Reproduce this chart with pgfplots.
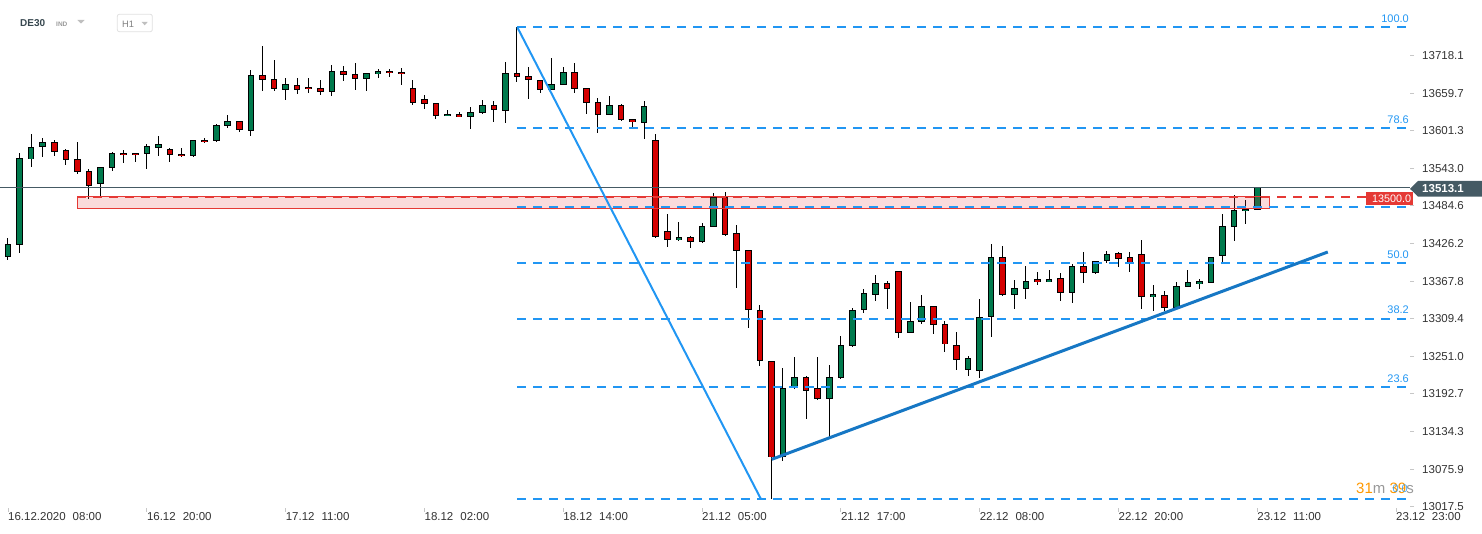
\documentclass[border=0pt]{standalone}
\usepackage{pgfplots}
\usepackage{pgfplotstable}
\pgfplotsset{compat=1.18}
\usepackage{fontspec}
\setmainfont{Liberation Sans}
\definecolor{cgreen}{HTML}{007A4D}
\definecolor{cred}{HTML}{D50000}
\definecolor{fibblue}{HTML}{2196F3}
\definecolor{trendblue}{HTML}{1677C4}
\definecolor{zonered}{HTML}{E53935}
\definecolor{slate}{HTML}{455A64}
\definecolor{lbl}{HTML}{333333}
\definecolor{hdr}{HTML}{37474F}
\definecolor{cdorange}{HTML}{FF9800}

% i = candle index (H1), o h l c
\pgfplotstableread{
i o h l c
0 13404.8 13434.3 13400.6 13425.0
1 13423.4 13566.2 13411.9 13558.5
2 13556.9 13596.2 13545.4 13575.6
3 13575.6 13589.5 13561.0 13583.3
8 13518.1 13544.5 13499.9 13544.5
9 13543.0 13567.8 13539.2 13566.2
12 13564.7 13580.2 13542.3 13577.1
13 13574.0 13593.1 13562.5 13580.2
16 13561.6 13586.4 13560.0 13586.4
18 13584.9 13611.3 13583.8 13609.7
19 13608.2 13625.2 13605.1 13615.9
21 13600.4 13695.1 13593.6 13687.4
24 13664.1 13682.7 13649.5 13673.4
28 13661.0 13703.3 13655.7 13693.6
31 13681.1 13690.5 13663.4 13690.5
32 13688.9 13696.7 13682.7 13693.6
38 13623.7 13633.0 13623.7 13626.8
40 13622.1 13637.7 13603.5 13629.9
41 13628.4 13648.5 13626.8 13640.8
43 13631.5 13707.5 13612.8 13690.5
47 13664.1 13713.8 13664.1 13673.4
48 13671.8 13699.8 13671.8 13692.0
52 13625.2 13654.8 13625.2 13640.8
55 13612.8 13647.0 13588.0 13639.2
58 13431.2 13459.1 13429.6 13435.8
60 13428.1 13457.6 13426.5 13452.9
61 13451.3 13504.1 13451.3 13497.9
67 13094.2 13232.4 13088.0 13201.4
68 13201.4 13249.5 13199.8 13218.4
71 13184.3 13237.1 13126.2 13218.4
72 13216.9 13282.1 13215.3 13268.1
73 13266.6 13325.6 13265.0 13322.5
74 13322.5 13355.1 13317.8 13348.9
75 13345.8 13376.8 13336.4 13364.4
78 13286.8 13334.9 13286.8 13305.4
79 13303.8 13345.8 13300.7 13328.7
83 13229.3 13251.0 13220.0 13247.9
84 13227.8 13339.6 13216.9 13311.6
85 13311.6 13425.0 13280.5 13404.8
87 13345.8 13369.1 13324.0 13356.6
88 13355.1 13390.8 13339.6 13367.5
90 13365.9 13384.6 13365.9 13370.6
92 13348.9 13393.9 13333.3 13390.8
94 13379.9 13398.6 13378.4 13398.6
95 13398.6 13414.1 13395.4 13409.4
99 13342.7 13361.3 13320.9 13347.3
101 13325.6 13365.9 13324.0 13359.7
102 13358.2 13384.6 13358.2 13365.9
103 13362.8 13370.6 13355.1 13367.5
104 13364.4 13404.8 13364.4 13404.8
105 13406.3 13471.5 13393.9 13452.9
106 13451.3 13501.0 13429.6 13477.7
107 13476.2 13493.3 13456.0 13479.3
108 13477.7 13513.1 13477.7 13513.1
}\greencandles

\pgfplotstableread{
i o h l c
4 13583.3 13586.9 13562.5 13568.7
5 13570.9 13572.5 13548.5 13555.4
6 13556.9 13583.8 13533.6 13536.7
7 13538.3 13541.4 13495.8 13515.0
10 13566.2 13571.4 13551.7 13563.1
11 13566.2 13566.2 13553.2 13563.1
14 13572.5 13574.0 13553.2 13563.1
15 13564.7 13574.0 13560.0 13561.6
17 13586.4 13589.5 13581.8 13583.3
20 13615.9 13615.9 13598.9 13602.4
22 13687.4 13732.9 13663.4 13679.6
23 13681.1 13710.6 13663.4 13665.6
25 13671.8 13682.7 13658.8 13665.0
26 13668.7 13682.7 13660.3 13665.6
27 13667.2 13679.6 13657.2 13661.0
29 13693.6 13701.3 13679.0 13687.4
30 13688.9 13706.0 13665.0 13681.1
33 13693.6 13696.7 13684.3 13690.5
34 13692.0 13698.2 13671.8 13688.9
35 13667.2 13679.6 13640.8 13643.9
36 13650.1 13656.3 13634.6 13642.3
37 13643.9 13643.9 13620.0 13623.7
39 13626.8 13629.9 13622.1 13622.1
42 13640.8 13647.0 13614.4 13633.0
44 13690.5 13761.9 13676.5 13684.3
45 13685.8 13699.8 13650.1 13679.6
46 13679.6 13679.6 13659.4 13664.1
49 13692.0 13706.0 13659.4 13665.6
50 13667.2 13667.2 13626.8 13643.9
51 13645.4 13651.6 13597.3 13625.2
53 13640.8 13642.3 13615.9 13617.5
54 13619.0 13619.0 13605.1 13614.4
56 13586.4 13595.7 13435.2 13436.8
57 13445.1 13471.5 13420.3 13431.2
59 13435.8 13437.4 13418.7 13428.1
62 13497.9 13505.7 13437.4 13438.9
63 13442.0 13454.5 13356.6 13414.1
64 13415.6 13415.6 13295.8 13322.5
65 13322.5 13330.2 13236.0 13243.3
66 13243.3 13243.3 13029.9 13094.2
69 13218.4 13220.0 13154.2 13196.7
70 13201.4 13249.5 13182.7 13184.3
76 13364.4 13367.5 13324.0 13355.1
77 13383.0 13383.0 13279.0 13286.8
80 13328.7 13328.7 13285.2 13299.2
81 13300.7 13305.4 13257.3 13269.7
82 13268.1 13288.3 13229.3 13244.8
86 13404.8 13421.8 13344.2 13345.8
89 13370.6 13381.5 13361.3 13365.9
91 13372.2 13379.9 13336.4 13348.9
93 13390.8 13412.5 13364.4 13379.9
96 13411.0 13412.5 13389.2 13401.7
97 13404.8 13412.5 13381.5 13393.9
98 13409.4 13431.2 13324.0 13342.7
100 13345.8 13352.0 13320.9 13325.6
}\redcandles

\pgfplotsset{
  wickplot/.style={only marks, mark size=0pt, mark options={draw=none, fill=none}, forget plot,
    error bars/.cd, y dir=both, y explicit, error mark=none,
    error bar style={line width=1pt, draw=black, solid}},
  bodyplot/.style 2 args={only marks, mark size=0pt, mark options={draw=none, fill=none}, forget plot,
    error bars/.cd, y dir=both, y explicit, error mark=none,
    error bar style={line width=#1, draw=#2, solid}},
}

\begin{document}
\begin{tikzpicture}
\path[use as bounding box] (0pt,-26pt) rectangle (1482pt,508pt);
\begin{axis}[
  scale only axis, width=1410pt, height=508pt,
  xmin=-0.6916, xmax=121.21, ymin=13015.5, ymax=13804.27,
  axis line style={draw=none},
  clip=false,
  tick align=outside,
  major tick length=4pt,
  tick style={black!22, line width=0.8pt},
  xtick pos=bottom, ytick pos=right, yticklabel pos=right,
  xtick={0,12,...,120},
  xticklabels={16.12.2020\hspace{7pt}08:00, 16.12\hspace{7pt}20:00, 17.12\hspace{7pt}11:00, 18.12\hspace{7pt}02:00, 18.12\hspace{7pt}14:00, 21.12\hspace{7pt}05:00, 21.12\hspace{7pt}17:00, 22.12\hspace{7pt}08:00, 22.12\hspace{7pt}20:00, 23.12\hspace{7pt}11:00, 23.12\hspace{7pt}23:00},
  ytick={13017.5,13075.9,13134.3,13192.7,13251.0,13309.4,13367.8,13426.2,13484.6,13543.0,13601.3,13659.7,13718.1},
  yticklabels={13017.5,13075.9,13134.3,13192.7,13251.0,13309.4,13367.8,13426.2,13484.6,13543.0,13601.3,13659.7,13718.1},
  xticklabel style={anchor=north west, inner sep=0pt, font=\fontsize{11.5}{13}\selectfont, text=lbl},
  yticklabel style={anchor=west, inner sep=0pt, xshift=8pt, font=\fontsize{11.5}{13}\selectfont, text=lbl},
]
% wicks
\addplot[wickplot] table[x=i, y expr={(\thisrow{h}+\thisrow{l})/2}, y error expr={(\thisrow{h}-\thisrow{l})/2}] {\greencandles};
\addplot[wickplot] table[x=i, y expr={(\thisrow{h}+\thisrow{l})/2}, y error expr={(\thisrow{h}-\thisrow{l})/2}] {\redcandles};
% body outlines
\addplot[bodyplot={6.6pt}{black}] table[x=i, y expr={(\thisrow{o}+\thisrow{c})/2}, y error expr={abs(\thisrow{c}-\thisrow{o})/2}] {\greencandles};
\addplot[bodyplot={6.6pt}{black}] table[x=i, y expr={(\thisrow{o}+\thisrow{c})/2}, y error expr={abs(\thisrow{c}-\thisrow{o})/2}] {\redcandles};
% body fills
\addplot[bodyplot={4.6pt}{cgreen}] table[x=i, y expr={(\thisrow{o}+\thisrow{c})/2}, y error expr={max(abs(\thisrow{c}-\thisrow{o})/2-1.4,0)}] {\greencandles};
\addplot[bodyplot={4.6pt}{cred}] table[x=i, y expr={(\thisrow{o}+\thisrow{c})/2}, y error expr={max(abs(\thisrow{c}-\thisrow{o})/2-1.4,0)}] {\redcandles};

% resistance zone 13480-13500
\addplot[draw=zonered, line width=1pt, fill=zonered, fill opacity=0.18, forget plot] coordinates {(5.99,13480.3) (109.04,13480.3) (109.04,13499.6) (5.99,13499.6)} -- cycle;
\addplot[zonered, line width=2pt, dash pattern=on 9pt off 7pt, forget plot] coordinates {(5.99,13498) (121.21,13498)};

% Fibonacci levels
\addplot[fibblue, line width=2pt, dash pattern=on 9pt off 7pt, forget plot] coordinates {(44.03,13762) (121.21,13762)};
\addplot[fibblue, line width=2pt, dash pattern=on 9pt off 7pt, forget plot] coordinates {(44.03,13605.4) (121.21,13605.4)};
\addplot[fibblue, line width=2pt, dash pattern=on 9pt off 7pt, forget plot] coordinates {(44.03,13482.4) (121.21,13482.4)};
\addplot[fibblue, line width=2pt, dash pattern=on 9pt off 7pt, forget plot] coordinates {(44.03,13396.0) (121.21,13396.0)};
\addplot[fibblue, line width=2pt, dash pattern=on 9pt off 7pt, forget plot] coordinates {(44.03,13309.6) (121.21,13309.6)};
\addplot[fibblue, line width=2pt, dash pattern=on 9pt off 7pt, forget plot] coordinates {(44.03,13202.8) (121.21,13202.8)};
\addplot[fibblue, line width=2pt, dash pattern=on 9pt off 7pt, forget plot] coordinates {(44.03,13030.2) (121.21,13030.2)};
% fib anchor line
\addplot[fibblue, line width=2pt, forget plot] coordinates {(44.03,13762) (65.07,13030.2)};
% rising trend line
\addplot[trendblue, line width=3pt, forget plot] coordinates {(66.03,13091.1) (114.1,13413.0)};
% current price line
\addplot[slate, line width=1pt, forget plot] coordinates {(-0.6916,13512.4) (121.21,13512.4)};
\end{axis}

\begin{scope}[x=1pt, y=-1pt, shift={(0pt,508pt)}]
  % header
  \node[anchor=west, inner sep=0pt, font=\fontsize{10}{12}\selectfont\bfseries, text=hdr] at (20,23) {DE30};
  \node[anchor=west, inner sep=0pt, font=\fontsize{6.5}{8}\selectfont\bfseries, text=black!40] at (56,24.5) {IND};
  \fill[black!25] (77.3,20) -- (84.7,20) -- (81,23.5) -- cycle;
  \draw[black!12, line width=0.8pt, fill=white, rounded corners=2pt] (117.3,14.3) rectangle (152.3,31.7);
  \node[anchor=west, inner sep=0pt, font=\fontsize{9.3}{11}\selectfont, text=black!50] at (122,24) {H1};
  \fill[black!25] (141.7,22) -- (147.7,22) -- (144.7,25.3) -- cycle;
  % fib labels
  \node[anchor=base east, inner sep=0pt, font=\fontsize{11}{13}\selectfont, text=fibblue] at (1409,22.5) {100.0};
  \node[anchor=base east, inner sep=0pt, font=\fontsize{11}{13}\selectfont, text=fibblue] at (1409,123.3) {78.6};
  \node[anchor=base east, inner sep=0pt, font=\fontsize{11}{13}\selectfont, text=fibblue] at (1409,258.3) {50.0};
  \node[anchor=base east, inner sep=0pt, font=\fontsize{11}{13}\selectfont, text=fibblue] at (1409,314) {38.2};
  \node[anchor=base east, inner sep=0pt, font=\fontsize{11}{13}\selectfont, text=fibblue] at (1409,382.7) {23.6};
  % countdown
  \node[anchor=base west, inner sep=0pt, font=\fontsize{15}{17}\selectfont] at (1356,494) {\textcolor{cdorange}{31}\textcolor{black!40}{m} \textcolor{cdorange}{39}\textcolor{black!40}{s}};
  \node[anchor=base east, inner sep=0pt, font=\fontsize{11}{13}\selectfont, text=fibblue, opacity=0.8] at (1408,493) {0.0};
  % 13500 label
  \fill[zonered] (1366,191.7) rectangle (1413,205);
  \node[inner sep=0pt, font=\fontsize{10.8}{12}\selectfont, text=white] at (1391.5,198.5) {13500.0};
  % current price label
  \fill[slate] (1410,188.8) -- (1418,181) -- (1482,181) -- (1482,196.7) -- (1418,196.7) -- cycle;
  \node[anchor=west, inner sep=0pt, font=\fontsize{11.5}{13}\selectfont\bfseries, text=white] at (1422,189) {13513.1};
\end{scope}
\end{tikzpicture}
\end{document}
